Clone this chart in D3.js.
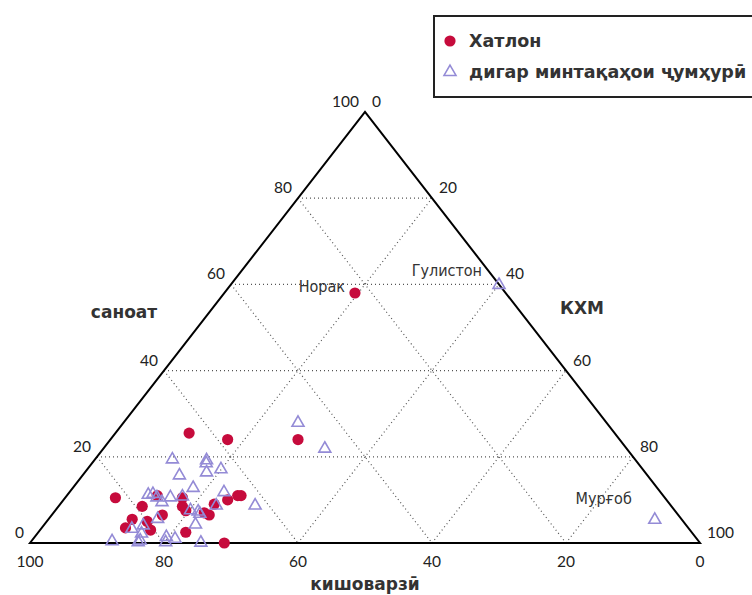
<!DOCTYPE html>
<html>
<head>
<meta charset="utf-8">
<script src="https://cdn.jsdelivr.net/npm/d3@7"></script>
<style>
  body { margin: 0; background: #fff; }
  svg { display: block; }
</style>
</head>
<body>
<div id="chart"></div>
<script>
// [кишоварзӣ, саноат, КХМ] in percent
var hatlon = [
  [22.5, 58, 19.5],
  [63.5, 25.5, 11], [58.5, 24, 17.5], [48, 24, 28],
  [82, 10.5, 7.5], [79, 8.5, 12.5], [75.5, 11, 13.5], [72, 10.5, 17.5],
  [73, 8.5, 18.5], [73, 7.5, 19.5], [68, 9, 23], [65.5, 10, 24.5],
  [63.5, 11, 25.5], [63, 11, 26], [82, 5.5, 12.5], [84, 3.5, 12.5],
  [80, 5, 15], [80.5, 3, 16.5], [77, 6.5, 16.5], [75.5, 2.5, 22],
  [70.5, 7, 22.5], [70, 6.5, 23.5], [71, 0, 29]
]

var otherRegions = [
  [0, 60, 40], [4, 5.5, 90.5],
  [46, 28, 26], [45, 22, 33], [69, 19.5, 11.5], [64, 19.3, 16.7],
  [64.4, 18.6, 17], [62.9, 17.2, 19.9], [69.8, 15.8, 14.4], [65.4, 16.5, 18.1],
  [69.2, 12.9, 17.9], [65.1, 11.9, 23], [62, 8.8, 29.2], [76.7, 11.3, 12],
  [75.9, 11.5, 12.6], [75.7, 10.7, 13.6], [73.7, 10.7, 15.6], [75.5, 9.6, 14.9],
  [71.8, 10.9, 17.3], [72.2, 7.7, 20.1], [71.2, 7.4, 21.4], [71.2, 6.9, 21.9],
  [67.8, 8.8, 23.4], [78.1, 5.7, 16.2], [81, 4.2, 14.8], [83.1, 3.4, 13.5],
  [73.1, 4.4, 22.5], [87.5, 0.5, 12], [83.7, 0.3, 16], [83.2, 0.7, 16.1],
  [82.2, 2.3, 15.5], [78.9, 1.5, 19.6], [79.6, 0.3, 20.1], [77.8, 1.1, 21.1],
  [74.4, 0.2, 25.4]
]

var ticks = [0, 20, 40, 60, 80, 100]
var gridLevels = [20, 40, 60, 80]

var annotations = [
  { name: 'Норак', point: [22.5, 58, 19.5] },
  { name: 'Гулистон', point: [0, 60, 40] },
  { name: 'Мурғоб', point: [4, 5.5, 90.5] }
]

var legendLabels = ['Хатлон', 'дигар минтақаҳои ҷумҳурӣ']

var width = 752
var height = 595

var svg = d3
  .select('#chart')
  .append('svg')
  .attr('width', width)
  .attr('height', height)

// x runs with (services + industry / 2), y with industry
var xScale = d3.scaleLinear().domain([0, 100]).range([30, 700])
var yScale = d3.scaleLinear().domain([0, 100]).range([543, 112])

function px(d) {
  return xScale(d[2] + d[1] / 2)
}
function py(d) {
  return yScale(d[1])
}

var red = '#c60b3c'
var purple = '#948bd6'
var tickFont = 'Lato, "DejaVu Sans", sans-serif'
var boldFont = '"DejaVu Sans", sans-serif'
var narrowFont = '"Liberation Sans Narrow", "DejaVu Sans Condensed", sans-serif'

// grid lines
var gridLines = []
gridLevels.forEach(k => {
  // constant industry
  gridLines.push([[100 - k, k, 0], [0, k, 100 - k]])
  // constant agriculture
  gridLines.push([[k, 100 - k, 0], [k, 0, 100 - k]])
  // constant services
  gridLines.push([[100 - k, 0, k], [0, 100 - k, k]])
})

svg
  .selectAll('.grid')
  .data(gridLines)
  .enter()
  .append('line')
  .attr('class', 'grid')
  .attr('x1', d => px(d[0]))
  .attr('y1', d => py(d[0]))
  .attr('x2', d => px(d[1]))
  .attr('y2', d => py(d[1]))
  .attr('stroke', '#555')
  .attr('stroke-width', 1.2)
  .attr('stroke-dasharray', '1,3')

// outline
var corners = [[100, 0, 0], [0, 0, 100], [0, 100, 0]]
svg
  .append('path')
  .attr('d', 'M' + corners.map(d => px(d) + ',' + py(d)).join('L') + 'Z')
  .attr('fill', 'none')
  .attr('stroke', '#000')
  .attr('stroke-width', 2)
  .attr('stroke-linejoin', 'miter')

// tick labels
var tickG = svg.append('g').attr('font-family', tickFont).attr('font-size', 15.5).attr('fill', '#222')

// left side: саноат
tickG
  .selectAll('.tick-left')
  .data(ticks)
  .enter()
  .append('text')
  .attr('x', d => px([100 - d, d, 0]) - 6)
  .attr('y', d => py([100 - d, d, 0]) - 5)
  .attr('text-anchor', 'end')
  .text(d => d)

// right side: КХМ
tickG
  .selectAll('.tick-right')
  .data(ticks)
  .enter()
  .append('text')
  .attr('x', d => px([0, 100 - d, d]) + 7)
  .attr('y', d => py([0, 100 - d, d]) - 5)
  .attr('text-anchor', 'start')
  .text(d => d)

// bottom: кишоварзӣ
tickG
  .selectAll('.tick-bottom')
  .data(ticks)
  .enter()
  .append('text')
  .attr('x', d => px([d, 0, 100 - d]))
  .attr('y', d => py([d, 0, 100 - d]) + 24)
  .attr('text-anchor', 'middle')
  .text(d => d)

// axis titles
var titleG = svg
  .append('g')
  .attr('font-family', boldFont)
  .attr('font-weight', 700)
  .attr('font-size', 17)
  .attr('fill', '#333')
  .attr('text-anchor', 'middle')

titleG.append('text').attr('x', 124).attr('y', 318).text('саноат')
titleG.append('text').attr('x', 582).attr('y', 314).text('КХМ')
titleG.append('text').attr('x', 365).attr('y', 590).text('кишоварзӣ')

// points
svg
  .selectAll('.hatlon')
  .data(hatlon)
  .enter()
  .append('circle')
  .attr('class', 'hatlon')
  .attr('cx', px)
  .attr('cy', py)
  .attr('r', 5.6)
  .attr('fill', red)

var triangle = d3.symbol().type(d3.symbolTriangle).size(62)

svg
  .selectAll('.other')
  .data(otherRegions)
  .enter()
  .append('path')
  .attr('class', 'other')
  .attr('d', triangle)
  .attr('transform', d => 'translate(' + px(d) + ',' + (py(d) + 0.5) + ')')
  .attr('fill', 'none')
  .attr('stroke', purple)
  .attr('stroke-width', 1.6)

// annotations
var annOffsets = [[-10, -1], [-17, -8], [-23, -15]]
svg
  .selectAll('.ann')
  .data(annotations)
  .enter()
  .append('text')
  .attr('class', 'ann')
  .attr('x', (d, i) => px(d.point) + annOffsets[i][0])
  .attr('y', (d, i) => py(d.point) + annOffsets[i][1])
  .attr('text-anchor', 'end')
  .attr('font-family', narrowFont)
  .attr('font-size', 16)
  .attr('fill', '#333')
  .text(d => d.name)

// legend
var legend = svg.append('g')
legend
  .append('rect')
  .attr('x', 434)
  .attr('y', 16)
  .attr('width', 340)
  .attr('height', 81)
  .attr('fill', '#fff')
  .attr('stroke', '#222')
  .attr('stroke-width', 2)

legend.append('circle').attr('cx', 450).attr('cy', 41).attr('r', 5.6).attr('fill', red)
legend
  .append('path')
  .attr('d', triangle)
  .attr('transform', 'translate(450,72)')
  .attr('fill', 'none')
  .attr('stroke', purple)
  .attr('stroke-width', 1.6)

legend
  .selectAll('.legend-label')
  .data(legendLabels)
  .enter()
  .append('text')
  .attr('x', 469)
  .attr('y', (d, i) => 47 + i * 31)
  .attr('font-family', boldFont)
  .attr('font-weight', 700)
  .attr('font-size', 17.5)
  .attr('fill', '#333')
  .text(d => d)
</script>
</body>
</html>
